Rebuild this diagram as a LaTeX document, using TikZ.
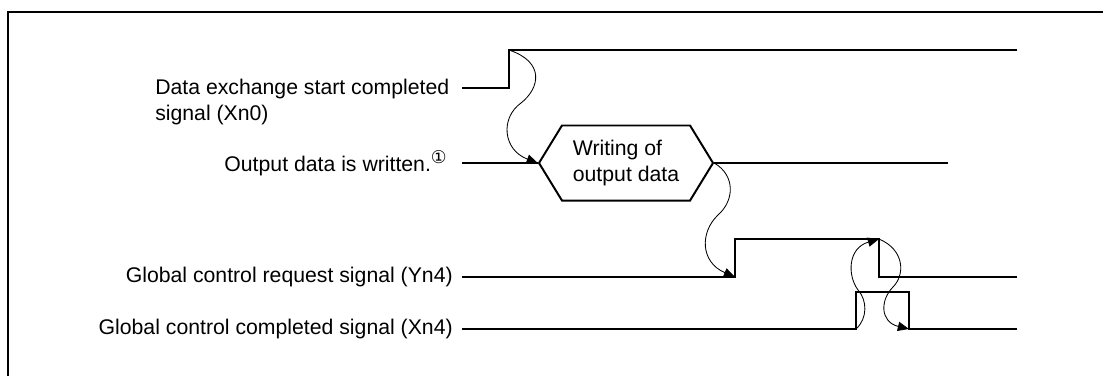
\documentclass[tikz,border=0pt]{standalone}
\usepackage{fontspec}
\setmainfont{Liberation Sans}
\newfontfamily\circfont{DejaVu Sans}
\usetikzlibrary{arrows.meta,shapes.symbols}

\begin{document}
\begin{tikzpicture}[x=0.025cm, y=-0.025cm,
	font=\fontsize{15.1}{18.2}\selectfont,
	wave/.style = { line width=1.4pt },
	cause/.style = { line width=0.6pt,
	-{Triangle[length=2.8mm, width=2.3mm]} },
	signame/.style = { anchor=east, inner sep=0pt } ]

  \useasboundingbox (0,0) rectangle (1103,376);
  \draw [wave] (8,376) -- (8,12) -- (1103,12);

  % signal names
  \node [name=xnzero, inner sep=0pt, anchor=north west, align=left]
	at (155,79) { Data exchange start completed\\signal (Xn0) };
  \node [name=outdata, signame] at (447,163)
	{ Output data is written.\raisebox{0.7ex}{\fontsize{12.5}{12.5}\circfont ①} };
  \node [name=ynfour, signame] at (453,277) { Global control request signal (Yn4) };
  \node [name=xnfour, signame] at (453,329) { Global control completed signal (Xn4) };

  % edges of the waves
  \coordinate (xnzeroup) at (509,50);
  \coordinate (ynfourup) at (735,277);
  \coordinate (ynfourdown) at (879,239);
  \coordinate (xnfourup) at (856,329);
  \coordinate (xnfourdown) at (909,329);

  \node [name=writing, wave, draw, shape=signal, signal to=west and east,
	signal pointer angle=117, minimum width=4.35cm, minimum height=1.875cm,
	inner sep=0pt, align=left] at (626,163) { Writing of\\output data };

  \draw [wave] (462,88) -- (509,88) -- (xnzeroup) -- (1017,50);
  \draw [wave] (462,163) -- (writing.west);
  \draw [wave] (writing.east) -- (948,163);
  \draw [wave] (462,277) -- (ynfourup) -- (735,239) -- (ynfourdown)
	-- (879,277) -- (1017,277);
  \draw [wave] (462,329) -- (xnfourup) -- (856,292) -- (909,292)
	-- (xnfourdown) -- (1017,329);

  % handshake
  \draw [cause] (xnzeroup) .. controls (545,62) and (540,88) .. (521,103)
	.. controls (500,118) and (503,150) .. (writing.west);
  \draw [cause] (writing.east) .. controls (735,175) and (735,200) .. (718,215)
	.. controls (700,232) and (700,262) .. (ynfourup);
  \draw [cause] (xnfourup) .. controls (868,318) and (867,300) .. (858,290)
	.. controls (847,275) and (848,248) .. (ynfourdown);
  \draw [cause] (ynfourdown) .. controls (905,250) and (905,275) .. (893,287)
	.. controls (880,300) and (880,322) .. (xnfourdown);
\end{tikzpicture}
\end{document}
